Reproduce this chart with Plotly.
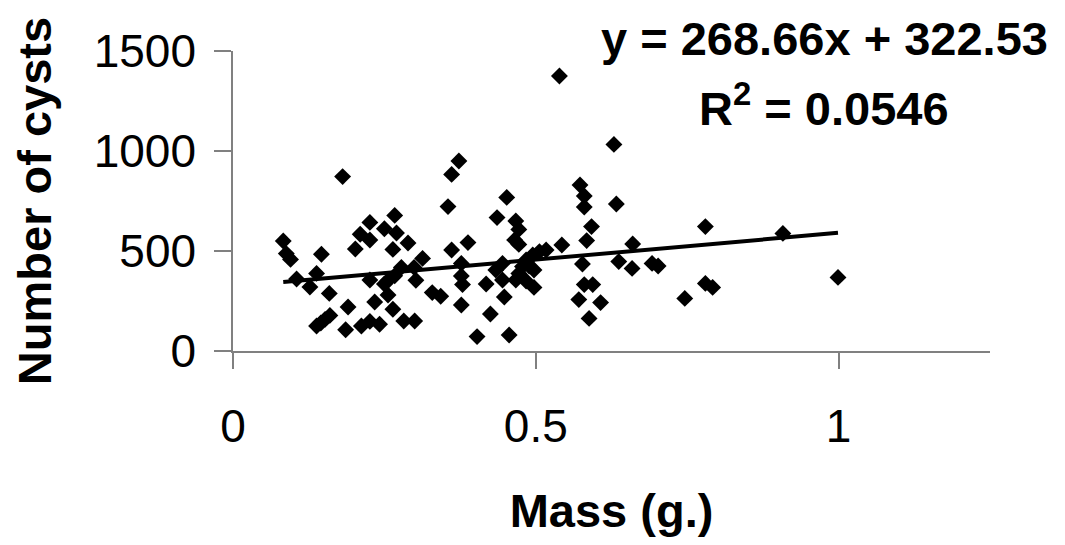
import plotly.graph_objects as go

# Data
mass = [0.083, 0.088, 0.095, 0.105, 0.127, 0.138, 0.146, 0.159, 0.160, 0.152,
        0.145, 0.138, 0.186, 0.190, 0.181, 0.202, 0.210, 0.226, 0.226, 0.267,
        0.250, 0.270, 0.264, 0.289, 0.313, 0.278, 0.299, 0.226, 0.256, 0.267,
        0.302, 0.250, 0.256, 0.234, 0.264, 0.212, 0.226, 0.242, 0.282, 0.300,
        0.329, 0.343,
        0.355, 0.361, 0.373, 0.361, 0.388, 0.377, 0.377, 0.379, 0.377, 0.418,
        0.425, 0.403, 0.456, 0.448, 0.445, 0.434, 0.445, 0.452, 0.436, 0.467,
        0.472, 0.465, 0.472, 0.484, 0.495, 0.506, 0.517, 0.478, 0.489, 0.497,
        0.472, 0.484, 0.497, 0.539, 0.467,
        0.543, 0.573, 0.580, 0.580, 0.633, 0.629, 0.592, 0.584, 0.660, 0.577,
        0.637, 0.659, 0.692, 0.702, 0.580, 0.594, 0.571, 0.607, 0.588, 0.746,
        0.780, 0.780, 0.792, 0.908, 0.999]
cysts = [550, 487, 458, 360, 320, 388, 484, 288, 178, 158,
         140, 125, 106, 220, 872, 510, 584, 555, 643, 678,
         611, 590, 508, 540, 463, 418, 418, 355, 352, 376,
         354, 335, 280, 245, 209, 125, 148, 134, 150, 150,
         292, 274,
         722, 883, 950, 505, 542, 438, 375, 332, 230, 335,
         185, 72, 80, 270, 438, 405, 355, 768, 667, 650,
         608, 555, 533, 455, 480, 497, 505, 422, 425, 405,
         388, 350, 318, 1375, 355,
         530, 830, 775, 720, 735, 1033, 622, 552, 535, 435,
         447, 413, 438, 425, 332, 332, 257, 242, 163, 263,
         622, 338, 318, 588, 368]

# Linear trend line (as printed on the chart)
slope = 268.66
intercept = 322.53
r_squared = 0.0546

x_ticks = [0, 0.5, 1]
x_tick_labels = ["0", "0.5", "1"]
y_ticks = [0, 500, 1000, 1500]

x_fit = [min(mass), max(mass)]
y_fit = [slope * v + intercept for v in x_fit]

FONT = "Liberation Sans, Arial, sans-serif"
AXIS_GRAY = "#808080"

fig = go.Figure()
fig.add_trace(go.Scatter(
    x=mass, y=cysts, mode="markers",
    marker=dict(symbol="diamond", size=13, color="black"),
    showlegend=False,
))
fig.add_trace(go.Scatter(
    x=x_fit, y=y_fit, mode="lines",
    line=dict(color="black", width=4),
    showlegend=False,
))

fig.add_annotation(
    xref="paper", yref="paper", x=0.781, y=1.043,
    text="<b>y = %.2fx + %.2f</b>" % (slope, intercept),
    showarrow=False, xanchor="center", yanchor="middle",
    font=dict(family=FONT, size=47, color="black"),
)
fig.add_annotation(
    xref="paper", yref="paper", x=0.781, y=0.82,
    text="<b>R<sup>2</sup> = %.4f</b>" % r_squared,
    showarrow=False, xanchor="center", yanchor="middle",
    font=dict(family=FONT, size=47, color="black"),
)

fig.update_layout(
    width=1049, height=529,
    margin=dict(l=225, r=67, t=43, b=186),
    paper_bgcolor="white", plot_bgcolor="white",
    font=dict(family=FONT, color="black"),
    xaxis=dict(
        range=[0, 1.25], tickvals=x_ticks, ticktext=x_tick_labels,
        showgrid=False, zeroline=False, showline=True,
        linecolor=AXIS_GRAY, linewidth=1.5,
        ticks="outside", ticklen=16, tickcolor=AXIS_GRAY, tickwidth=1.5,
        tickfont=dict(family=FONT, size=46, color="black"),
        ticklabelstandoff=18,
        title=dict(text="<b>Mass (g.)</b>", font=dict(family=FONT, size=47, color="black"), standoff=48),
        automargin=False,
    ),
    yaxis=dict(
        range=[0, 1500], tickvals=y_ticks,
        showgrid=False, zeroline=False, showline=True,
        linecolor=AXIS_GRAY, linewidth=1.5,
        ticks="outside", ticklen=17, tickcolor=AXIS_GRAY, tickwidth=1.5,
        tickfont=dict(family=FONT, size=46, color="black"),
        ticklabelstandoff=9,
        title=dict(text="<b>Number of cysts</b>", font=dict(family=FONT, size=47, color="black"), standoff=36),
        automargin=False,
    ),
)

fig.write_html("out.html")
